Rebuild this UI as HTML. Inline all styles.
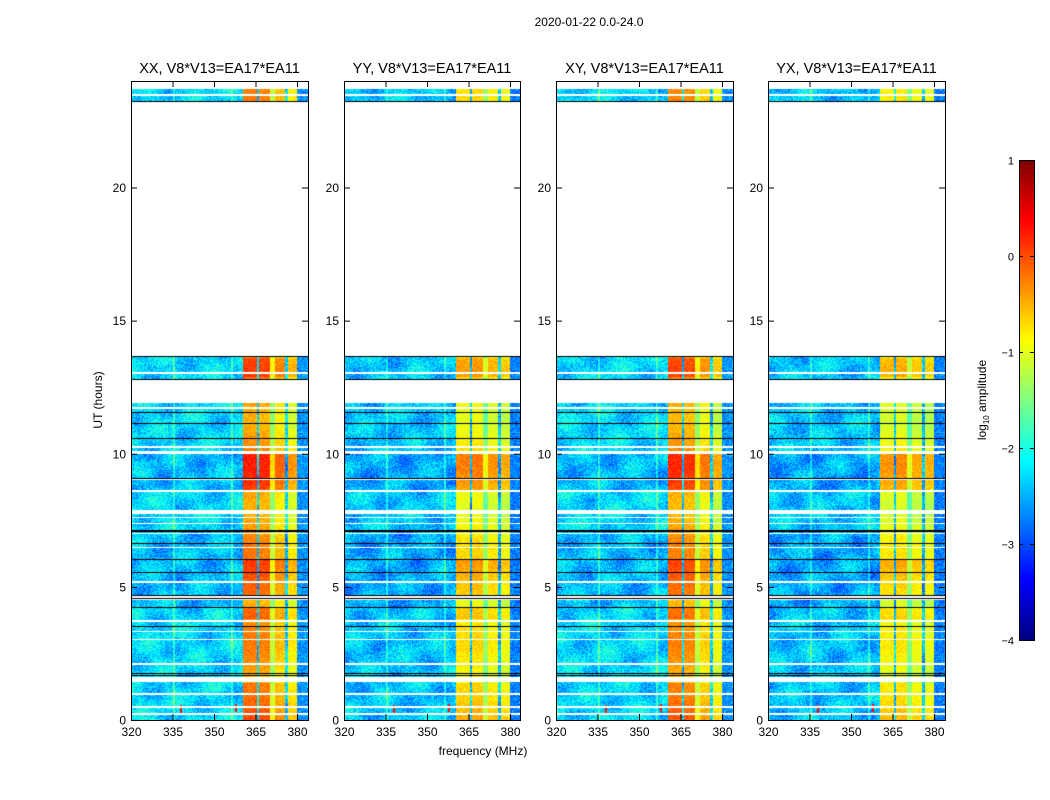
<!DOCTYPE html>
<html><head><meta charset="utf-8">
<style>
body{margin:0;background:#fff;width:1050px;height:800px;overflow:hidden;position:relative;font-family:"Liberation Sans",sans-serif}
canvas{position:absolute}
svg{position:absolute;left:0;top:0}
text{font-family:"Liberation Sans",sans-serif}
</style></head><body>
<canvas id="c0" width="177" height="639" style="left:131px;top:81px"></canvas>
<canvas id="c1" width="176" height="639" style="left:344px;top:81px"></canvas>
<canvas id="c2" width="177" height="639" style="left:556px;top:81px"></canvas>
<canvas id="c3" width="177" height="639" style="left:768px;top:81px"></canvas>
<canvas id="cb" width="15" height="480" style="left:1019px;top:160px"></canvas>
<svg id="s" width="1050" height="800"></svg>
<script>
// ---- data ----
const panelTitles = ["XX, V8*V13=EA17*EA11","YY, V8*V13=EA17*EA11","XY, V8*V13=EA17*EA11","YX, V8*V13=EA17*EA11"];
const xTicks = [320,335,350,365,380];
const yTicks = [0,5,10,15,20];
const cbTicks = [1,0,-1,-2,-3,-4];
const coverage = [[0,13.68],[23.23,23.7]];
const whiteGaps = [[13.0,13.06],[11.91,12.81],[11.69,11.75],[10.23,10.29],[10.0,10.11],[9.0,9.06],[8.58,8.64],[7.75,7.87],[7.57,7.63],[7.35,7.41],[6.97,7.03],[6.45,6.51],[5.13,5.21],[4.58,4.64],[4.5,4.56],[3.67,3.75],[3.3,3.36],[3.0,3.06],[2.07,2.13],[1.42,1.61],[0.94,1.0],[0.46,0.52],[0.19,0.26],[23.45,23.51]];
const blackLines = [13.67,12.81,11.57,11.16,10.6,9.1,7.12,7.08,6.63,6.03,5.54,4.68,4.57,4.23,3.52,1.76,1.69,23.24];
const bandStarts = [360.5,366.3,370.2,372.0,376.7];
const bandEnds   = [365.5,370.2,372.0,375.7,380.0];
const bandLevelXX = [-0.35,-0.4,-1.3,-0.7,-0.95];
const bandLevelYY = [-0.85,-0.8,-1.5,-0.95,-1.05];
const bandLevelXY = [-0.4,-0.45,-1.3,-0.8,-1.05];
const bandLevelYX = [-0.95,-0.9,-1.6,-1.05,-1.1];
const bandBoost = [[8.6,10.0,0.45],[4.7,6.0,0.35],[0,1.4,0.3],[12.9,13.6,0.3],[3.8,4.2,0.3]]; // [start h, end h, extra]
const bgLevel = [-2.3,-2.4,-2.3,-2.4];
const darkSpans = [[4.2,7.1],[8.6,10.0]];
const lineFreqs = [335.5,356.5];
const spikes = [[338,0.4],[358,0.45]];

const X0=[131,344,556,768], W=[177,176,177,177], Y0=81, H=639;
const fMin=320, fPerPx=15/41.5, hPerPx=24/H;
function xs(p,f){return X0[p]+(f-fMin)/fPerPx;}
function ys(h){return Y0+H-h/hPerPx;}
function jet(v){
  function c(x){return Math.max(0,Math.min(1,x));}
  const r=c(1.5-Math.abs(4*v-3)), g=c(1.5-Math.abs(4*v-2)), b=c(1.5-Math.abs(4*v-1));
  return [r*255|0,g*255|0,b*255|0];
}
function hash(x,y){let n=x*374761393+y*668265263;n=(n^(n>>>13))*1274126177;return ((n^(n>>>16))>>>0)/4294967295;}
const levels=[bandLevelXX,bandLevelYY,bandLevelXY,bandLevelYX];
for(let p=0;p<4;p++){
  const cv=document.getElementById('c'+p),ctx=cv.getContext('2d');
  const img=ctx.createImageData(cv.width,H);
  for(let j=0;j<H;j++){
    const h=(H-j-0.5)*hPerPx;
    let inCov=coverage.some(c=>h>=c[0]&&h<=c[1]);
    if(whiteGaps.some(g=>h>=g[0]&&h<=g[1]))inCov=false;
    let dark=darkSpans.some(d=>h>=d[0]&&h<=d[1])?-0.15:0;
    let boost=0; for(const bb of bandBoost) if(h>=bb[0]&&h<=bb[1]) boost=bb[2];
    for(let i=0;i<cv.width;i++){
      const k=(j*cv.width+i)*4;
      if(!inCov){img.data[k]=img.data[k+1]=img.data[k+2]=255;img.data[k+3]=255;continue;}
      const f=fMin+(i+0.5)*fPerPx;
      let v=bgLevel[p]+dark+0.3*Math.sin(i*0.11+j*0.05+p)*Math.cos(j*0.13-i*0.04)+(hash(i+p*300,j)-0.5)*0.75;
      let b=-1;
      for(let q=0;q<bandStarts.length;q++) if(f>=bandStarts[q]&&f<bandEnds[q]) b=q;
      if(b>=0){v=levels[p][b]+boost+(hash(i,j+p*999)-0.5)*0.35+0.15*Math.sin(j*0.07);}
      else if(f>380) v=bgLevel[p]-0.35+(hash(i,j)-0.5)*0.7;
      else for(const lf of lineFreqs) if(Math.abs(f-lf)<0.3) v+=0.5;
      for(const s of spikes){ if(Math.abs(f-s[0])<0.35&&Math.abs(h-s[1])<0.15) v=0.3; }
      const c=jet(Math.max(0,Math.min(1,(v+4)/5)));
      img.data[k]=c[0];img.data[k+1]=c[1];img.data[k+2]=c[2];img.data[k+3]=255;
    }
  }
  ctx.putImageData(img,0,0);
  ctx.fillStyle='#000';
  for(const b of blackLines){ctx.fillRect(0,Math.round(ys(b)-Y0),cv.width,1);}
}
{const cv=document.getElementById('cb'),ctx=cv.getContext('2d');
 for(let j=0;j<480;j++){const c=jet(1-j/479);ctx.fillStyle=`rgb(${c[0]},${c[1]},${c[2]})`;ctx.fillRect(0,j,15,1);}}
const NS="http://www.w3.org/2000/svg",svg=document.getElementById('s');
function el(t,a,txt){const e=document.createElementNS(NS,t);for(const k in a)e.setAttribute(k,a[k]);if(txt!==undefined)e.textContent=txt;svg.appendChild(e);return e;}
let t=el('text',{x:589,y:26,'text-anchor':'middle','font-size':12},"2020-01-22 0.0-24.0");


for(let p=0;p<4;p++){
  let r=el('rect',{x:X0[p]+0.5,y:Y0+0.5,width:W[p],height:H,fill:'none',stroke:'#000','stroke-width':1});
  
  
  let tt=el('text',{x:X0[p]+W[p]/2,y:73,'text-anchor':'middle','font-size':14.5},panelTitles[p]);
  
  
  for(const v of xTicks){const x=xs(p,v)+0.5;
    el('line',{x1:x,x2:x,y1:Y0+H,y2:Y0+H-6,stroke:'#000'});
    el('line',{x1:x,x2:x,y1:Y0,y2:Y0+6,stroke:'#000'});
    let l=el('text',{x:x,y:736,'text-anchor':'middle','font-size':12},v);
    
    }
  for(const v of yTicks){const y=ys(v)+0.5;
    el('line',{x1:X0[p],x2:X0[p]+6,y1:y,y2:y,stroke:'#000'});
    el('line',{x1:X0[p]+W[p],x2:X0[p]+W[p]-6,y1:y,y2:y,stroke:'#000'});
    let l=el('text',{x:X0[p]-5,y:y+4,'text-anchor':'end','font-size':12},v);
    
    }
}
t=el('text',{x:483,y:755,'text-anchor':'middle','font-size':12},"frequency (MHz)");


t=el('text',{x:102,y:400,'text-anchor':'middle','font-size':12,transform:'rotate(-90 102 400)'},"UT (hours)");


let cr=el('rect',{x:1019.5,y:160.5,width:15,height:480,fill:'none',stroke:'#000'});


cbTicks.forEach(v=>{const y=160+(1-v)*96+0.5;
  el('line',{x1:1019,x2:1023,y1:y,y2:y,stroke:'#000'});
  el('line',{x1:1034,x2:1030,y1:y,y2:y,stroke:'#000'});
  let l=el('text',{x:1014,y:y+4,'text-anchor':'end','font-size':11},v<0?'\u2212'+(-v):v);
  
  });
t=el('text',{x:986,y:400,'text-anchor':'middle','font-size':12,transform:'rotate(-90 986 400)'});
t.innerHTML='log<tspan font-size="8" dy="3">10</tspan><tspan dy="-3"> amplitude</tspan>';


</script>
</body></html>
